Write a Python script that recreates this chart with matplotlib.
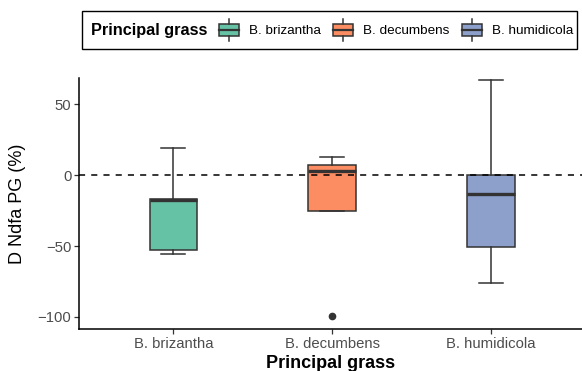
import matplotlib
matplotlib.use("Agg")
import matplotlib.pyplot as plt
from matplotlib.legend_handler import HandlerBase
from matplotlib.patches import Rectangle
from matplotlib.lines import Line2D

plt.rcParams["font.family"] = ["Liberation Sans", "DejaVu Sans"]

# data
grasses = ["B. brizantha", "B. decumbens", "B. humidicola"]
colors = ["#66C2A5", "#FC8D62", "#8DA0CB"]
whis_lo = [-55.7, -25.0, -76.0]
q1 = [-53.0, -25.0, -50.5]
med = [-17.3, 3.0, -13.0]
q3 = [-16.5, 7.0, 0.0]
whis_hi = [19.0, 12.5, 67.0]
outliers = [[], [-99.5], []]
yticks = [-100, -50, 0, 50]

edge = "#333333"

stats = []
for i, g in enumerate(grasses):
    stats.append(dict(label=g, whislo=whis_lo[i], q1=q1[i], med=med[i],
                      q3=q3[i], whishi=whis_hi[i], fliers=outliers[i]))

W, H = 582, 371
fig = plt.figure(figsize=(W / 100, H / 100), dpi=100)
ax = fig.add_axes([79 / W, 1 - 329 / H, (582 - 79) / W, (329 - 78) / H])

bp = ax.bxp(stats, positions=[1, 2, 3], widths=0.3, patch_artist=True,
            capwidths=0.15,
            boxprops=dict(edgecolor=edge, linewidth=1.1),
            medianprops=dict(color=edge, linewidth=2.4),
            whiskerprops=dict(color=edge, linewidth=1.1),
            capprops=dict(color=edge, linewidth=1.1),
            flierprops=dict(marker="o", markerfacecolor=edge, markeredgecolor=edge,
                            markersize=4.5))
for patch, c in zip(bp["boxes"], colors):
    patch.set_facecolor(c)

ax.axhline(0, color="black", linestyle=(0, (4, 4)), linewidth=1.1, zorder=5)

ax.set_xlim(0.406, 3.573)
ax.set_ylim(-108.5, 68.5)
ax.set_yticks(yticks)
ax.set_xticks([1, 2, 3])
ax.set_xticklabels(grasses)
for s in ["top", "right"]:
    ax.spines[s].set_visible(False)
for s in ["left", "bottom"]:
    ax.spines[s].set_color("black")
    ax.spines[s].set_linewidth(1.1)
ax.tick_params(colors="#333333", labelcolor="#4D4D4D", labelsize=10.7, length=3.5, width=0.9, pad=2)
ax.set_xlabel("Principal grass", fontsize=13, fontweight="bold", labelpad=3)
ax.set_ylabel("D Ndfa PG (%)", fontsize=13, labelpad=8)


class BoxKey(HandlerBase):
    def create_artists(self, legend, orig_handle, xdescent, ydescent, width, height, fontsize, trans):
        fc = orig_handle.get_facecolor()
        cx = width / 2 - xdescent
        bw = width
        bh = height
        y0 = -ydescent
        r = Rectangle((cx - bw / 2, y0), bw, bh, facecolor=fc, edgecolor=edge,
                      linewidth=1.1, transform=trans)
        m = Line2D([cx - bw / 2, cx + bw / 2], [y0 + bh / 2] * 2, color=edge, linewidth=1.6, transform=trans)
        w1 = Line2D([cx, cx], [y0 + bh, y0 + bh + 3.5], color=edge, linewidth=1.1, transform=trans)
        w2 = Line2D([cx, cx], [y0 - 3.5, y0], color=edge, linewidth=1.1, transform=trans)
        return [r, m, w1, w2]


handles = [Rectangle((0, 0), 1, 1, facecolor=c) for c in colors]
fig.patches.append(Rectangle((82 / W, 1 - 49 / H), (577 - 82) / W, 38 / H, transform=fig.transFigure,
                             facecolor="white", edgecolor="black", linewidth=1.0))
fig.text(91 / W, 1 - 30.5 / H, "Principal grass", fontsize=11.7, fontweight="bold", va="center", ha="left")
fig.legend(handles, grasses, handler_map={Rectangle: BoxKey()}, ncol=3, frameon=False,
           loc="center left", bbox_to_anchor=(219 / W, 1 - 30.5 / H), fontsize=9.7,
           handlelength=1.5, handleheight=1.08, handletextpad=0.75, columnspacing=0.88,
           borderpad=0, borderaxespad=0)

fig.savefig("out.png", dpi=100)
